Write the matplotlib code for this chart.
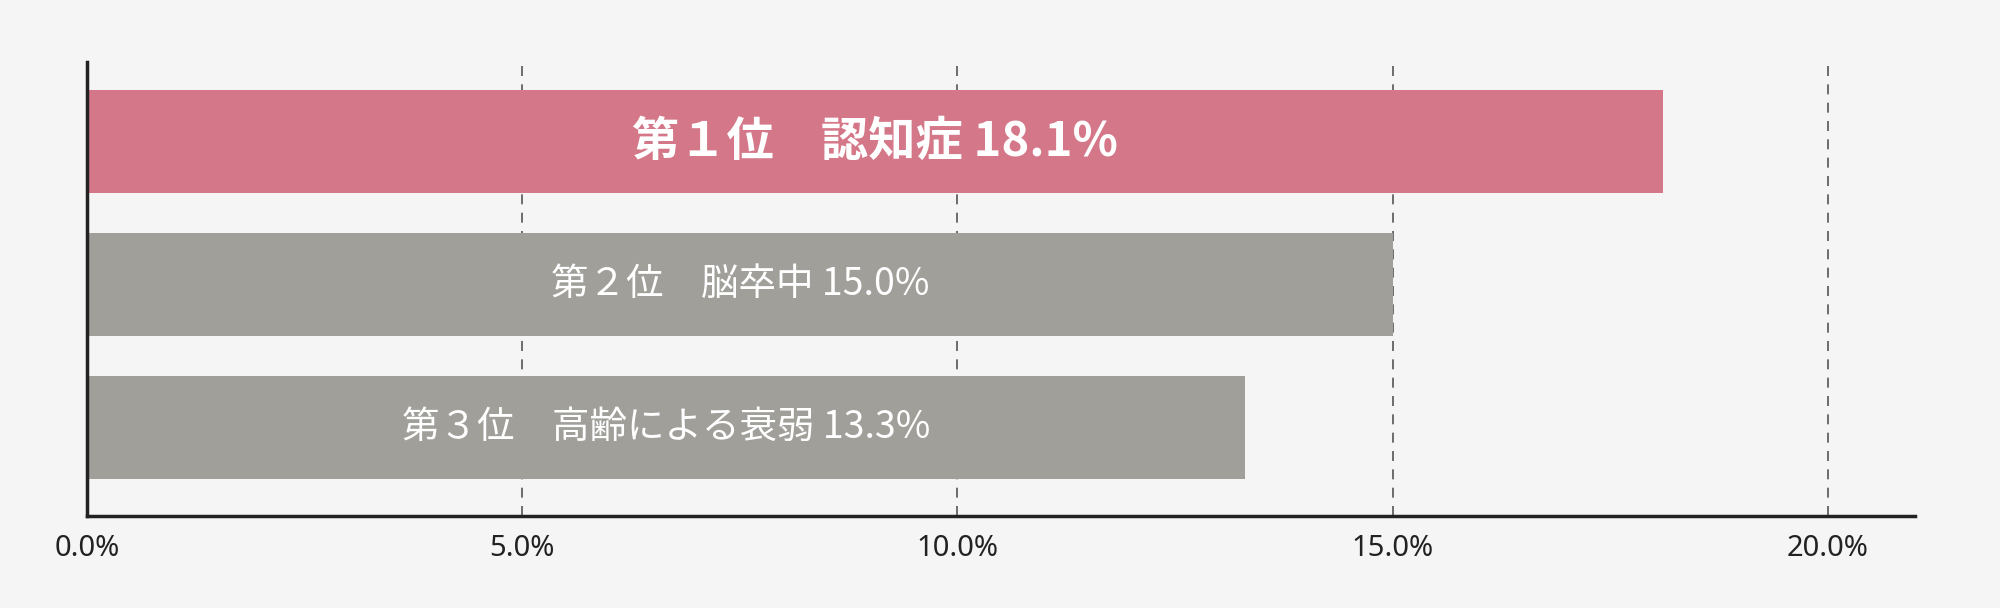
import matplotlib.pyplot as plt
from matplotlib.ticker import FuncFormatter

plt.rcParams['font.family'] = ['Noto Sans CJK JP', 'DejaVu Sans']

# data
ranks = ['第１位', '第２位', '第３位']
causes = ['認知症', '脳卒中', '高齢による衰弱']
values = [18.1, 15.0, 13.3]
ticks = [0, 5, 10, 15, 20]

colors = ['#D47788', '#A09F9A', '#A09F9A']
bg = '#F5F5F5'

fig = plt.figure(figsize=(20, 6.08), dpi=100, facecolor=bg)
ax = fig.add_axes([0.0435, 0.1513, 0.914, 0.7467], facecolor=bg)

ypos = list(range(len(values)))
ax.barh(ypos, values, height=0.72, color=colors, zorder=2)

for i, (r, c, v) in enumerate(zip(ranks, causes, values)):
    big = i == 0
    ax.text(v / 2, i, f'{r}　{c} {v:.1f}%', ha='center', va='center',
            color='white', fontsize=34 if big else 27,
            fontweight='bold' if big else 'normal', zorder=3)

ax.set_xlim(0, 21)
ax.set_ylim(2.62, -0.556)
ax.set_xticks(ticks)
ax.xaxis.set_major_formatter(FuncFormatter(lambda x, p: f'{x:.1f}%'))
ax.tick_params(axis='x', length=0, pad=13, labelsize=21, colors='#222222')
for lab in ax.get_xticklabels():
    lab.set_family(['Noto Sans', 'DejaVu Sans'])
ax.set_yticks([])

ax.grid(axis='x', linestyle=(0, (6, 5)), color='#555555', linewidth=1.2, zorder=1)
ax.set_axisbelow(True)

for s in ['top', 'right']:
    ax.spines[s].set_visible(False)
for s in ['left', 'bottom']:
    ax.spines[s].set_linewidth(2.5)
    ax.spines[s].set_color('#222222')

fig.savefig('out.png', dpi=100, facecolor=bg)
